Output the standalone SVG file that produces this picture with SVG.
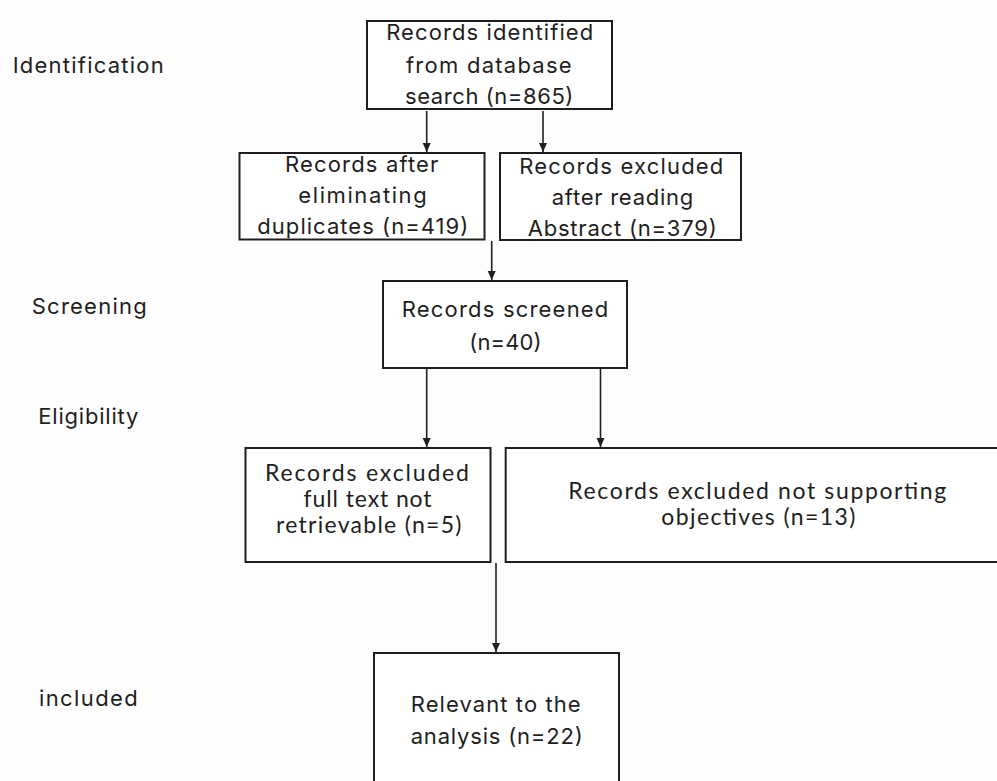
<svg xmlns="http://www.w3.org/2000/svg" width="997" height="781" viewBox="0 0 997 781">
<style>
.box{fill:#fff;stroke:#1e1e1e;stroke-width:2}
.t{font-family:Inter,"Open Sans","Liberation Sans",sans-serif;font-size:22px;fill:#1e1e1e;text-anchor:middle}
.c{font-family:Lato,"Open Sans","Liberation Sans",sans-serif;font-size:23px;fill:#1e1e1e;text-anchor:middle}
.lab{font-family:Inter,"Open Sans","Liberation Sans",sans-serif;font-size:22px;fill:#1e1e1e}
.ln{stroke:#1e1e1e;stroke-width:1.6;fill:none;marker-end:url(#ah)}
</style>
<defs>
<marker id="ah" markerUnits="userSpaceOnUse" markerWidth="10" markerHeight="10" refX="9" refY="4" orient="auto">
<path d="M0,0 L9,4 L0,8 z" fill="#1e1e1e"/>
</marker>
</defs>
<rect width="997" height="781" fill="#fdfdfd"/>
<g id="labels">
<text class="lab" x="12.7" y="73.3" textLength="151">Identification</text>
<text class="lab" x="31.7" y="314" textLength="115">Screening</text>
<text class="lab" x="38.3" y="424" textLength="100">Eligibility</text>
<text class="lab" x="39" y="705.7" textLength="98.7">included</text>
</g>
<g id="connectors">
<line class="ln" x1="426.7" y1="111" x2="426.7" y2="152"/>
<line class="ln" x1="543" y1="111" x2="543" y2="152"/>
<line class="ln" x1="491.7" y1="241" x2="491.7" y2="280"/>
<line class="ln" x1="426.7" y1="369" x2="426.7" y2="447"/>
<line class="ln" x1="600.5" y1="369" x2="600.5" y2="447"/>
<line class="ln" x1="496" y1="563" x2="496" y2="652"/>
</g>
<g id="n-identified">
<rect class="box" x="367" y="21" width="245" height="88"/>
<text class="t" x="489.7" y="40" textLength="207">Records identified</text>
<text class="t" x="488.8" y="72.7" textLength="165.7">from database</text>
<text class="t" x="489.2" y="104" textLength="168.3">search (n=865)</text>
</g>
<g id="n-after">
<rect class="box" x="239.5" y="153" width="245" height="86.5"/>
<text class="t" x="361.7" y="171.7" textLength="153.3">Records after</text>
<text class="t" x="362.5" y="202.7" textLength="128.4">eliminating</text>
<text class="t" x="362.8" y="234.3" textLength="211">duplicates (n=419)</text>
</g>
<g id="n-excl-abstract">
<rect class="box" x="500" y="153" width="241" height="87"/>
<text class="t" x="621.3" y="174.3" textLength="204">Records excluded</text>
<text class="t" x="622.5" y="205" textLength="141.6">after reading</text>
<text class="t" x="622.2" y="236" textLength="189">Abstract (n=379)</text>
</g>
<g id="n-screened">
<rect class="box" x="383" y="281" width="244" height="87"/>
<text class="t" x="505" y="317" textLength="206.7">Records screened</text>
<text class="t" x="505.5" y="350" textLength="72.3">(n=40)</text>
</g>
<g id="n-excl-fulltext">
<rect class="box" x="245.5" y="448" width="245" height="114"/>
<text class="c" x="367" y="481" textLength="204">Records excluded</text>
<text class="c" x="367.6" y="507" textLength="128">full text not</text>
<text class="c" x="368.7" y="533" textLength="185.5">retrievable (n=5)</text>
</g>
<g id="n-excl-objectives">
<rect class="box" x="505.7" y="448" width="500" height="114"/>
<text class="c" x="757.3" y="499" textLength="378">Records excluded not supporting</text>
<text class="c" x="758.3" y="525" textLength="194">objectives (n=13)</text>
</g>
<g id="n-relevant">
<rect class="box" x="374" y="653" width="245" height="140"/>
<text class="t" x="495.7" y="711.7" textLength="170">Relevant to the</text>
<text class="t" x="496.7" y="744" textLength="172">analysis (n=22)</text>
</g>
</svg>
